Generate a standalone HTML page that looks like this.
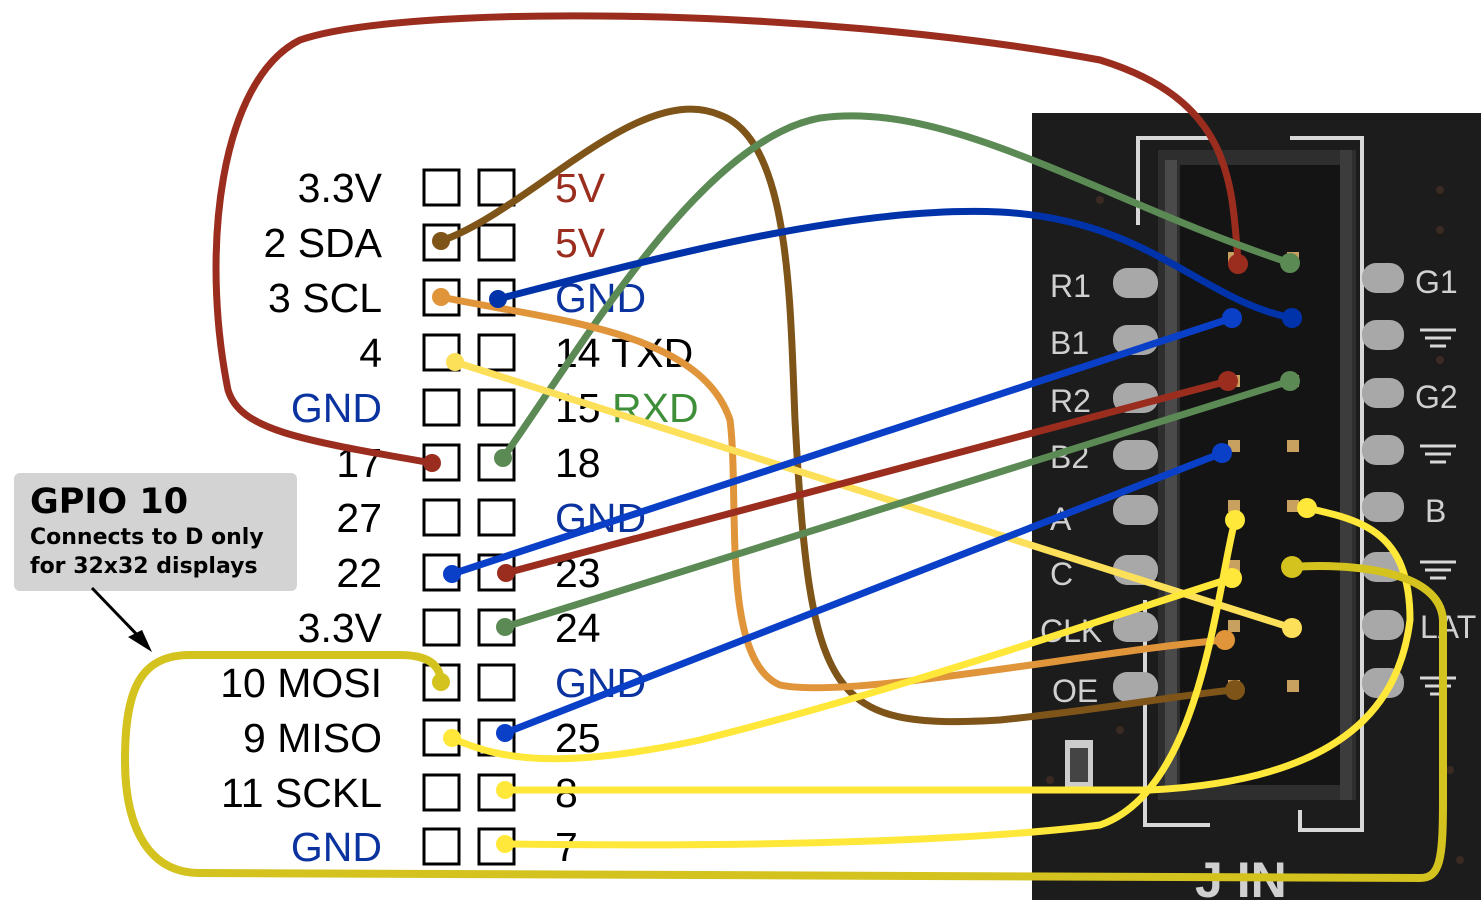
<!DOCTYPE html>
<html><head><meta charset="utf-8"><style>
html,body{margin:0;padding:0;background:#fff;}
svg{display:block}
.l{font-family:"Liberation Sans",sans-serif;font-size:41px;}
.p{font-family:"Liberation Sans",sans-serif;font-size:32px;fill:#d0d0d0;}
</style></head><body>
<svg width="1481" height="900" viewBox="0 0 1481 900" xmlns="http://www.w3.org/2000/svg">
<!-- PCB photo -->
<rect x="1032" y="113" width="449" height="787" fill="#1c1c1c"/>
<g fill="#3a2a22"><circle cx="1440" cy="190" r="4"/><circle cx="1440" cy="230" r="4"/><circle cx="1440" cy="360" r="4"/><circle cx="1450" cy="770" r="4"/><circle cx="1050" cy="780" r="4"/><circle cx="1460" cy="860" r="4"/><circle cx="1100" cy="200" r="4"/><circle cx="1120" cy="730" r="4"/></g>
<path d="M1138 225 V138 H1210 M1290 138 H1362 V830 H1300 V810 M1210 825 H1145 V600" fill="none" stroke="#d8d8d8" stroke-width="4"/>
<rect x="1158" y="150" width="198" height="650" fill="#2e2e2e"/>
<rect x="1180" y="165" width="165" height="620" fill="#141414"/>
<rect x="1165" y="160" width="12" height="630" fill="#4a4a4a"/>
<rect x="1340" y="150" width="12" height="650" fill="#3c3c3c"/>
<g fill="#c8a060"><rect x="1228" y="252" width="12" height="12"/><rect x="1287" y="252" width="12" height="12"/><rect x="1228" y="312" width="12" height="12"/><rect x="1287" y="312" width="12" height="12"/><rect x="1228" y="375" width="12" height="12"/><rect x="1287" y="375" width="12" height="12"/><rect x="1228" y="440" width="12" height="12"/><rect x="1287" y="440" width="12" height="12"/><rect x="1228" y="500" width="12" height="12"/><rect x="1287" y="500" width="12" height="12"/><rect x="1228" y="560" width="12" height="12"/><rect x="1287" y="560" width="12" height="12"/><rect x="1228" y="620" width="12" height="12"/><rect x="1287" y="620" width="12" height="12"/><rect x="1228" y="680" width="12" height="12"/><rect x="1287" y="680" width="12" height="12"/></g>
<g fill="#a8a8a8">
<rect x="1113" y="268" width="45" height="30" rx="14"/><rect x="1113" y="325" width="45" height="30" rx="14"/><rect x="1113" y="383" width="45" height="30" rx="14"/><rect x="1113" y="440" width="45" height="30" rx="14"/><rect x="1113" y="495" width="45" height="30" rx="14"/><rect x="1113" y="555" width="45" height="30" rx="14"/><rect x="1113" y="612" width="45" height="30" rx="14"/><rect x="1113" y="672" width="45" height="30" rx="14"/>
<rect x="1362" y="263" width="42" height="30" rx="14"/><rect x="1362" y="320" width="42" height="30" rx="14"/><rect x="1362" y="378" width="42" height="30" rx="14"/><rect x="1362" y="435" width="42" height="30" rx="14"/><rect x="1362" y="492" width="42" height="30" rx="14"/><rect x="1362" y="552" width="42" height="30" rx="14"/><rect x="1362" y="610" width="42" height="30" rx="14"/><rect x="1362" y="668" width="42" height="30" rx="14"/>
</g>
<g class="p"><text x="1050" y="297">R1</text><text x="1050" y="354">B1</text><text x="1050" y="412">R2</text><text x="1050" y="468">B2</text><text x="1050" y="530">A</text><text x="1050" y="585">C</text><text x="1040" y="642">CLK</text><text x="1052" y="702">OE</text>
<text x="1415" y="293">G1</text><text x="1415" y="408">G2</text><text x="1425" y="522">B</text><text x="1420" y="638">LAT</text><text x="1195" y="897" style="font-size:50px;font-weight:bold">J  IN</text></g>
<g stroke="#d8d8d8" stroke-width="3"><path d="M1420 330h36M1425 338h26M1430 346h16M1420 446h36M1425 454h26M1430 462h16M1420 562h36M1425 570h26M1430 578h16M1420 678h36M1425 686h26M1430 694h16"/></g>
<rect x="1065" y="740" width="28" height="50" fill="#ccc"/><rect x="1070" y="748" width="18" height="34" fill="#444"/>

<!-- header squares -->
<g fill="none" stroke="#000" stroke-width="3">
<rect x="424" y="170" width="35" height="35"/><rect x="479" y="170" width="35" height="35"/>
<rect x="424" y="225" width="35" height="35"/><rect x="479" y="225" width="35" height="35"/>
<rect x="424" y="280" width="35" height="35"/><rect x="479" y="280" width="35" height="35"/>
<rect x="424" y="335" width="35" height="35"/><rect x="479" y="335" width="35" height="35"/>
<rect x="424" y="390" width="35" height="35"/><rect x="479" y="390" width="35" height="35"/>
<rect x="424" y="445" width="35" height="35"/><rect x="479" y="445" width="35" height="35"/>
<rect x="424" y="500" width="35" height="35"/><rect x="479" y="500" width="35" height="35"/>
<rect x="424" y="555" width="35" height="35"/><rect x="479" y="555" width="35" height="35"/>
<rect x="424" y="610" width="35" height="35"/><rect x="479" y="610" width="35" height="35"/>
<rect x="424" y="665" width="35" height="35"/><rect x="479" y="665" width="35" height="35"/>
<rect x="424" y="720" width="35" height="35"/><rect x="479" y="720" width="35" height="35"/>
<rect x="424" y="775" width="35" height="35"/><rect x="479" y="775" width="35" height="35"/>
<rect x="424" y="829" width="35" height="35"/><rect x="479" y="829" width="35" height="35"/>
</g>
<!-- left labels -->
<g class="l" text-anchor="end">
<text x="382" y="202">3.3V</text><text x="382" y="257">2 SDA</text><text x="382" y="312">3 SCL</text><text x="382" y="367">4</text><text x="382" y="422" fill="#0a33a0">GND</text><text x="382" y="477">17</text><text x="382" y="532">27</text><text x="382" y="587">22</text><text x="382" y="642">3.3V</text><text x="382" y="697">10 MOSI</text><text x="382" y="752">9 MISO</text><text x="382" y="807">11 SCKL</text><text x="382" y="861" fill="#0a33a0">GND</text>
</g>
<g class="l">
<text x="555" y="202" fill="#9b2d1f">5V</text><text x="555" y="257" fill="#9b2d1f">5V</text><text x="555" y="312" fill="#0a33a0">GND</text><text x="555" y="367">14 TXD</text><text x="555" y="422">15 <tspan fill="#3f8f3a">RXD</tspan></text><text x="555" y="477">18</text><text x="555" y="532" fill="#0a33a0">GND</text><text x="555" y="587">23</text><text x="555" y="642">24</text><text x="555" y="697" fill="#0a33a0">GND</text><text x="555" y="752">25</text><text x="555" y="807">8</text><text x="555" y="861">7</text>
</g>
<!-- callout -->
<rect x="14" y="473" width="283" height="118" rx="6" fill="#d3d3d3"/>
<g font-family="DejaVu Sans,sans-serif" font-weight="bold" fill="#000">
<text x="30" y="513" font-size="35">GPIO 10</text>
<text x="30" y="544" font-size="22">Connects to D only</text>
<text x="30" y="573" font-size="22">for 32x32 displays</text>
</g>
<path d="M92 588 L145 643" stroke="#000" stroke-width="3"/>
<path d="M152 652 L128 637 L142 630 Z" fill="#000"/>

<!-- wires -->
<g fill="none" stroke-width="7" stroke-linecap="round">
<path d="M432 463 C300 440 240 430 228 390 C200 250 220 80 300 40 C400 5 800 5 1100 60 C1230 100 1232 180 1238 262" stroke="#9b2d1f"/>
<path d="M441 241 C530 210 640 80 720 115 C790 140 790 300 795 420 C810 700 830 730 1000 720 C1100 710 1200 692 1235 690" stroke="#7e5418"/>
<path d="M503 458 C580 350 700 140 820 118 C950 100 1100 200 1290 263" stroke="#5b8a55"/>
<path d="M498 299 C650 260 850 205 1000 212 C1150 220 1200 300 1292 318" stroke="#0033aa"/>
<path d="M441 297 C550 320 700 330 730 420 C740 500 720 660 780 685 C850 700 1100 650 1225 640" stroke="#e0953a"/>
<path d="M455 362 L1292 628" stroke="#fde05a"/>
<path d="M452 574 L1232 318" stroke="#0a3fc8"/>
<path d="M506 573 L1228 381" stroke="#9b2d1f"/>
<path d="M505 627 L1290 381" stroke="#5b8a55"/>
<path d="M505 733 L1222 453" stroke="#0a3fc8"/>
<path d="M452 738 C500 760 560 770 700 740 C900 690 1100 620 1232 578" stroke="#ffe83a"/>
<path d="M505 790 L1150 790 C1350 780 1400 700 1410 620 C1410 530 1360 520 1307 508" stroke="#ffe83a"/>
<path d="M505 844 C800 848 1000 838 1100 825 C1200 790 1215 600 1235 520" stroke="#ffe83a"/>
<path d="M441 682 C440 660 420 655 400 655 L190 655 C140 655 125 690 125 760 C125 830 150 873 200 873 L1420 878 C1440 878 1443 860 1443 800 L1443 620 C1440 570 1350 563 1292 567" stroke="#d4c31e" stroke-width="8"/>
</g>
<g>
<circle cx="432" cy="463" r="9" fill="#9b2d1f"/><circle cx="1238" cy="264" r="10" fill="#9b2d1f"/>
<circle cx="441" cy="241" r="9" fill="#7e5418"/><circle cx="1235" cy="690" r="10" fill="#7e5418"/>
<circle cx="503" cy="458" r="9" fill="#5b8a55"/><circle cx="1290" cy="263" r="10" fill="#5b8a55"/>
<circle cx="498" cy="299" r="9" fill="#0033aa"/><circle cx="1292" cy="318" r="10" fill="#0033aa"/>
<circle cx="441" cy="297" r="9" fill="#e0953a"/><circle cx="1225" cy="640" r="10" fill="#e0953a"/>
<circle cx="455" cy="362" r="9" fill="#fde05a"/><circle cx="1292" cy="628" r="10" fill="#fde05a"/>
<circle cx="452" cy="574" r="9" fill="#0a3fc8"/><circle cx="1232" cy="318" r="10" fill="#0a3fc8"/>
<circle cx="506" cy="573" r="9" fill="#9b2d1f"/><circle cx="1228" cy="381" r="10" fill="#9b2d1f"/>
<circle cx="505" cy="627" r="9" fill="#5b8a55"/><circle cx="1290" cy="381" r="10" fill="#5b8a55"/>
<circle cx="505" cy="733" r="9" fill="#0a3fc8"/><circle cx="1222" cy="453" r="10" fill="#0a3fc8"/>
<circle cx="452" cy="738" r="9" fill="#ffe83a"/><circle cx="1232" cy="578" r="10" fill="#ffe83a"/>
<circle cx="505" cy="790" r="9" fill="#ffe83a"/><circle cx="1307" cy="508" r="10" fill="#ffe83a"/>
<circle cx="505" cy="844" r="9" fill="#ffe83a"/><circle cx="1235" cy="520" r="10" fill="#ffe83a"/>
<circle cx="441" cy="682" r="9" fill="#d4c31e"/><circle cx="1292" cy="567" r="11" fill="#d4c31e"/>
</g>
</svg>
</body></html>
